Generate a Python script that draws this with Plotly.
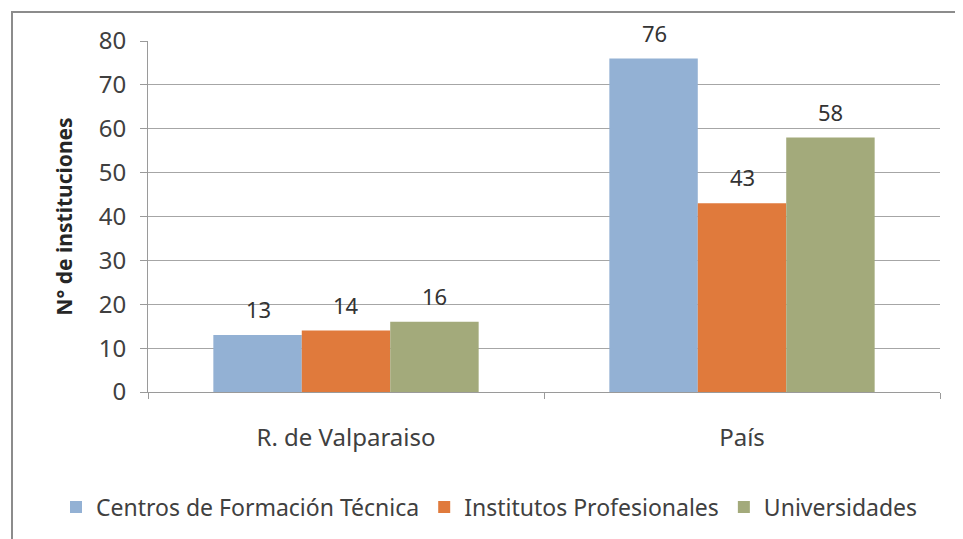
import plotly.graph_objects as go

categories = ["R. de Valparaiso", "País"]
series_names = ["Centros de Formación Técnica", "Institutos Profesionales", "Universidades"]
cft = [13, 76]
ip = [14, 43]
univ = [16, 58]
y_ticks = [0, 10, 20, 30, 40, 50, 60, 70, 80]

colors = ["#93B1D4", "#E07A3C", "#A3AA7B"]
FONT = "Noto Sans"
FS = 24

fig = go.Figure()
for name, vals, col in zip(series_names, [cft, ip, univ], colors):
    fig.add_trace(go.Bar(
        name=name, x=categories, y=vals, marker=dict(color=col, line=dict(width=0)),
    ))

# page offset (body margin) ~8px
OFF = 8
W, H = 963, 539
ml, mr, mt, mb = 148 - OFF, 23 + OFF, 41 - OFF, 147 + OFF
pw, ph = W - ml - mr, H - mt - mb
def px2x(p): return (p - OFF - ml) / pw
def py2y(p): return (H - mb - (p - OFF)) / ph

# data labels
bar_px = 88
for i, vals in enumerate([cft, ip, univ]):
    for c, v in zip(categories, vals):
        fig.add_annotation(x=c, y=v, text=str(v), showarrow=False, xref="x", yref="y",
                           xshift=(i - 1) * bar_px, yshift=9, yanchor="bottom",
                           font=dict(family=FONT, size=22, color="#333333"))

fig.add_shape(type="rect", xref="paper", yref="paper",
              x0=px2x(12), x1=px2x(961), y0=py2y(570), y1=py2y(12),
              line=dict(color="#8c8c8c", width=2), fillcolor="rgba(0,0,0,0)", layer="below")

fig.update_layout(
    width=W, height=H,
    margin=dict(l=ml, r=mr, t=mt, b=mb, autoexpand=False),
    paper_bgcolor="white", plot_bgcolor="white",
    barmode="group", bargap=0.33, bargroupgap=0,
    font=dict(family=FONT, size=FS, color="#404040"),
    showlegend=True,
    legend=dict(orientation="h", x=px2x(56), xanchor="left",
                y=py2y(507), yanchor="middle",
                font=dict(family=FONT, size=23, color="#404040"), itemwidth=30,
                traceorder="normal"),
    xaxis=dict(type="category", showline=True, linecolor="#9a9a9a", linewidth=1,
               ticks="outside", tickson="boundaries", ticklen=6, tickcolor="#9a9a9a",
               ticklabelstandoff=24, showgrid=False),
    yaxis=dict(range=[0, 80], tickvals=y_ticks, showline=True, linecolor="#9a9a9a", linewidth=1,
               ticks="outside", ticklen=7, tickcolor="#9a9a9a", showgrid=True,
               gridcolor="#a6a6a6", gridwidth=1, zeroline=False, ticklabelstandoff=9,
               title=dict(text="<b>N° de instituciones</b>", font=dict(family=FONT, size=21, color="#262626"),
                          standoff=20)),
)

fig.write_html("out.html")
